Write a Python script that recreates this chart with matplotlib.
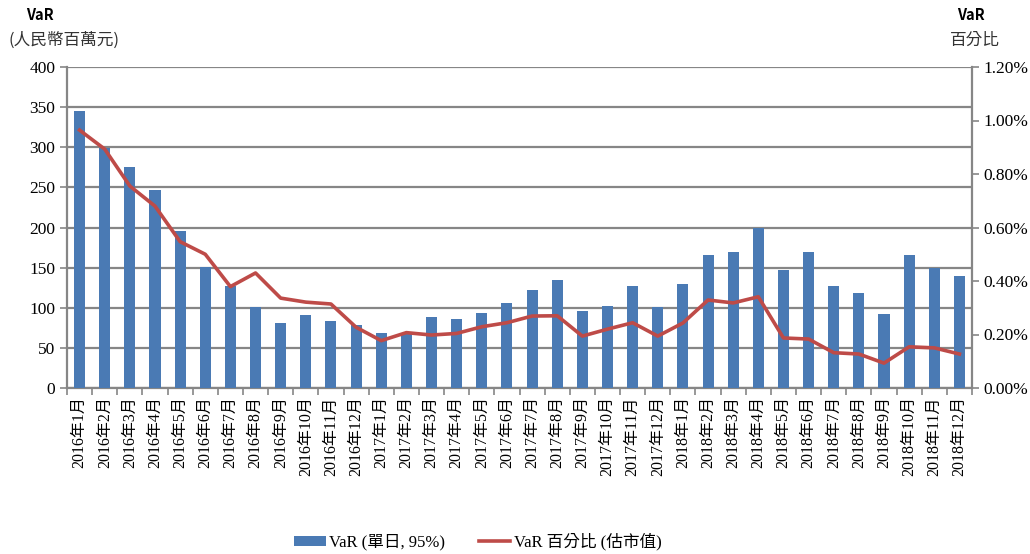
import matplotlib
matplotlib.use("Agg")
import matplotlib.pyplot as plt
from matplotlib.ticker import FuncFormatter, MultipleLocator

# data
months = [f"{y}年{m}月" for y in (2016, 2017, 2018) for m in range(1, 13)]
var_values = [345, 299, 276, 247, 196, 151, 127, 101, 81, 91, 84, 79,
              69, 67, 89, 86, 94, 106, 122, 134, 96, 102, 127, 101,
              129, 166, 170, 199, 147, 170, 127, 119, 92, 166, 150, 139]
var_pct = [0.964, 0.893, 0.755, 0.680, 0.547, 0.500, 0.379, 0.430, 0.336, 0.321, 0.314, 0.227,
           0.177, 0.207, 0.198, 0.204, 0.229, 0.244, 0.269, 0.270, 0.194, 0.220, 0.244, 0.194,
           0.243, 0.329, 0.318, 0.341, 0.187, 0.183, 0.132, 0.127, 0.093, 0.154, 0.150, 0.127]

bar_color = "#4A7AB4"
line_color = "#BE4B48"
grid_color = "#868686"
serif = ["Liberation Serif", "Noto Sans CJK TC"]
sans_cjk = ["Noto Sans CJK TC", "DejaVu Sans"]

fig = plt.figure(figsize=(10.30, 5.54), dpi=100)
ax = fig.add_axes([67 / 1030, 1 - 388 / 554, (972 - 67) / 1030, (388 - 67) / 554])
ax2 = ax.twinx()

x = list(range(len(months)))
bars = ax.bar(x, var_values, width=0.44, color=bar_color, zorder=3,
              label="VaR (單日, 95%)")
line, = ax2.plot(x, [v / 100 for v in var_pct], color=line_color, lw=2.6,
                 zorder=4, label="VaR 百分比 (估市值)")

ax.set_xlim(-0.5, len(months) - 0.5)
ax.set_ylim(0, 400)
ax.yaxis.set_major_locator(MultipleLocator(50))
ax2.set_ylim(0, 0.012)
ax2.yaxis.set_major_locator(MultipleLocator(0.002))
ax2.yaxis.set_major_formatter(FuncFormatter(lambda v, p: f"{v * 100:.2f}%"))

ax.grid(axis="y", color=grid_color, lw=1.6, zorder=0)
ax.set_axisbelow(True)

for a in (ax, ax2):
    a.spines["top"].set_visible(False)
    for side in ("left", "right", "bottom"):
        a.spines[side].set_color(grid_color)
        a.spines[side].set_linewidth(1.6)
ax.spines["right"].set_visible(False)
ax2.spines["left"].set_visible(False)
ax2.spines["bottom"].set_visible(False)

# x ticks between categories, labels centered on bars
ax.set_xticks([i - 0.5 for i in range(len(months) + 1)])
ax.set_xticklabels([])
ax.set_xticks(x, minor=True)
ax.set_xticklabels(months, minor=True, rotation=90, fontsize=11.5, family=serif)
ax.tick_params(axis="x", which="major", length=5, color=grid_color, width=1.2)
ax.tick_params(axis="x", which="minor", length=0, pad=6)
ax.tick_params(axis="y", length=5, color=grid_color, width=1.2, labelsize=12.5)
ax2.tick_params(axis="y", length=5, color=grid_color, width=1.2, labelsize=12.5)
for lab in ax.get_yticklabels() + ax2.get_yticklabels():
    lab.set_family(serif)

# axis headers
fig.text(40 / 1030, 1 - 15 / 554, "VaR", ha="center", va="center",
         fontsize=10.5, fontweight="bold", family=sans_cjk)
fig.text(64 / 1030, 1 - 40 / 554, "(人民幣百萬元)", ha="center", va="center",
         fontsize=12, family=sans_cjk, color="#333333")
fig.text(971 / 1030, 1 - 15 / 554, "VaR", ha="center", va="center",
         fontsize=10.5, fontweight="bold", family=sans_cjk)
fig.text(975 / 1030, 1 - 40 / 554, "百分比", ha="center", va="center",
         fontsize=12, family=sans_cjk, color="#333333")

leg = fig.legend(handles=[bars, line], loc="center", ncol=2,
                 bbox_to_anchor=(478 / 1030, 1 - 542 / 554), frameon=False,
                 prop={"family": serif, "size": 12}, handlelength=1.9,
                 handleheight=0.5, columnspacing=2.0, handletextpad=0.2)

fig.savefig("out.png", dpi=100)
